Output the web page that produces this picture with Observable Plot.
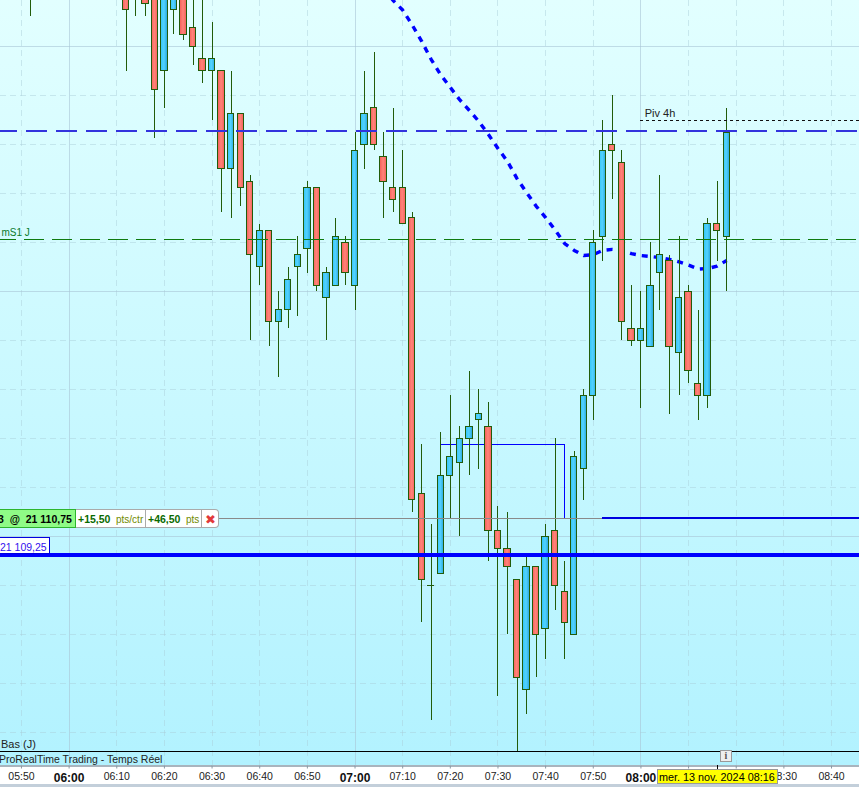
<!DOCTYPE html>
<html lang="fr">
<head>
<meta charset="utf-8">
<script src="https://cdn.jsdelivr.net/npm/d3@7"></script>
<script src="https://cdn.jsdelivr.net/npm/@observablehq/plot@0.6"></script>
<style>
html,body{margin:0;padding:0;background:#fff;overflow:hidden}
#wrap{position:relative;width:859px;height:787px;overflow:hidden;font-family:"Liberation Sans",Arial,sans-serif}
.o{position:absolute;box-sizing:border-box;white-space:nowrap;line-height:1}
.b{color:#0a6a00;font-weight:bold;font-size:10.5px}
.p{color:#6f8a00;font-size:10px}
</style>
</head>
<body>
<div id="wrap"></div>
<script>
// Candles: minute of day, prices as points relative to priceBase (21 110)
const priceBase = 21110;
const minutes = [352,372,374,376,378,380,382,384,386,388,390,392,394,396,398,400,402,404,406,408,410,412,414,416,418,420,422,424,426,428,430,432,434,436,438,440,442,444,446,448,450,452,454,456,458,460,462,464,466,468,470,472,474,476,478,480,482,484,486,488,490,492,494,496,498];
const opens  = [22.25,22.5,22,22.5,24,19,21.5,23,20.75,19.5,19,19,15,17.25,14.5,11,12.5,8.75,9.25,11,11.75,14.25,9.75,10.25,12,10.25,16,17.5,15.5,14.25,14.25,13,1.75,-2,-1.5,2.5,3,4,4.75,4.5,0.25,-0.5,-1.75,-6.25,-1.25,-3.75,0.25,-2.25,-4,2.75,5.75,12.25,16,15.25,8.5,8,7.75,10.75,11.25,7.5,10,6.25,5.75,12.75,12.25];
const highs  = [23.5,23,23.5,23,24.5,24,23.5,23.5,23,22,21,19,19,17.25,14.75,12.75,12.5,10,11,12.25,14.5,14.25,11,13,12.25,16.5,19,19.75,16.5,17.5,15.75,13.25,3.75,0.5,4.25,5.75,4.5,6.75,6,5.5,1.25,1,-1.75,-0.75,-1.25,0.5,4,-1,3.5,6,12.5,17,18,15.75,10.25,10,12,14.75,11.5,12.25,10.25,9.25,13,14.5,17.5];
const lows   = [21.25,19,21.25,21.25,16.25,17.5,20.5,20.25,19.25,18.5,17,13.25,13,13.5,8,10.25,7.75,6.5,8.5,9,10.75,10,8,10.25,10.25,9.25,15,15.75,13,13.25,12.75,1,-3.5,-7.5,-1.5,0.75,0,2.5,2.75,-1,-6.5,-4,-8.75,-7.25,-5.75,-5,-3,-5,-4,1.5,4.75,11.25,13.75,8,7.75,5.25,7.75,9.25,5,5.75,6.25,4.75,5.25,11.25,10];
const closes = [23,21.5,23,21.75,18.25,23.5,23,20.5,20,19,19.5,15,17.25,14.25,11.5,12.5,8.75,9.25,10.5,11.5,14.25,10.25,10.75,12.25,10.75,15.75,17.25,16,14.5,13.75,12.75,1.5,-1.75,-2,2.5,3.25,4,4.5,5,0.25,-0.5,-1.25,-5.75,-1.25,-4,0,-2,-3.5,3.25,5.75,12,15.75,15.75,8.75,8,8.5,10.25,11.5,7.75,9.75,6.75,5.75,12.75,12.5,16.5];

// Moving average (dotted blue curve)
const maMinutes = [426,428,430,432,434,436,438,440,442,444,446,448,450,452,454,456,458,460,462,464,466,468,470,472,474,476,478,480,482,484,486,488,490,492,494,496,498];
const maValues  = [22.38,21.89,21.5,20.89,20.22,19.48,18.85,18.34,17.83,17.4,16.95,16.42,15.85,15.32,14.62,14.05,13.5,13.03,12.52,11.97,11.69,11.48,11.52,11.69,11.73,11.69,11.56,11.48,11.44,11.4,11.32,11.22,11.09,10.93,10.95,11.05,11.28];

// Horizontal levels
const resistance = 16.56;
const pivot4h = 16.98;
const dailyS1 = 12.12;
const tradePrice = 0.75;
const stopPrice = -0.75;
const boxMinutes = [438,464,464];
const boxLevels = [3.75,3.75,0.75];

// Axis and grid
const tenMinuteTicks = [350,370,380,390,400,410,430,440,450,460,470,490,500,510,520];
const hourTicks  = [360,420,480];
const hiddenLabels = [490,500];
const gridPrices = [21102,21104,21106,21108,21112,21114,21116,21118,21122,21124,21126,21128];
const majorPrices = [21110,21120,21130];

const tickText = m => hiddenLabels.includes(m) ? "" : `${String(Math.floor(m/60)).padStart(2,"0")}:${String(m%60).padStart(2,"0")}`;
const candles = minutes.map((m,i) => ({m, o:priceBase+opens[i], h:priceBase+highs[i], l:priceBase+lows[i], c:priceBase+closes[i]}));
const solid = candles.filter(d => d.o !== d.c);
const doji  = candles.filter(d => d.o === d.c);
const ma = maMinutes.map((m,i) => ({m, v:priceBase+maValues[i]}));
const box = boxMinutes.map((m,i) => ({m, v:priceBase+boxLevels[i]}));
const P = v => priceBase + v;
const grad = () => {
  const defs = d3.create("svg:defs");
  const mk = (id, cols) => {
    const g = defs.append("linearGradient").attr("id", id).attr("x1",0).attr("x2",1).attr("y1",0).attr("y2",0);
    cols.forEach((c,i) => g.append("stop").attr("offset", i/(cols.length-1)).attr("stop-color", c));
  };
  mk("upG", ["#35c6f6","#52d2ff","#2aa9de"]);
  mk("dnG", ["#f5625c","#ff8379","#f5625c"]);
  return defs.node();
};
const crisp = {shapeRendering:"crispEdges"};

const chart = Plot.plot({
  width: 859, height: 787,
  marginTop: 0, marginRight: 0, marginLeft: 0, marginBottom: 21.5,
  style: {
    background: "linear-gradient(180deg,#e2ffff 0,#b2f2ff 765px,#a9b4bd 765px,#a9b4bd 766.5px,#fff 766.5px,#fff 784px,#c3cfda 784px)",
    fontFamily: '"Liberation Sans",Arial,sans-serif', overflow: "hidden"
  },
  x: {domain: [345.6, 525.87], axis: null},
  y: {domain: [21100.645, 21131.89], axis: null},
  marks: [
    grad,
    Plot.ruleX(tenMinuteTicks, {stroke:"#a9ccd6", strokeOpacity:.45, strokeDasharray:"6 4", ...crisp}),
    Plot.ruleX(hourTicks, {stroke:"#a9c4d6", strokeOpacity:.6, ...crisp}),
    Plot.ruleY(gridPrices, {stroke:"#a9ccd6", strokeOpacity:.45, strokeDasharray:"6 4", ...crisp}),
    Plot.ruleY(majorPrices, {stroke:"#a9c4d6", strokeOpacity:.6, ...crisp}),
    Plot.axisX(tenMinuteTicks, {tickSize:3, tickPadding:4, tickFormat:tickText, label:null, fontSize:10.5, stroke:"#8a98a3", fill:"#222"}),
    Plot.axisX(hourTicks, {tickSize:3, tickPadding:4, tickFormat:tickText, label:null, fontSize:12, fontWeight:"bold", stroke:"#8a98a3", fill:"#111"}),
    Plot.line(box, {x:"m", y:"v", stroke:"#0000ff", strokeWidth:1, ...crisp}),
    Plot.line(ma, {x:"m", y:"v", stroke:"#0000ff", strokeWidth:3.4, strokeLinecap:"butt", strokeDasharray:"6 6", clip:true}),
    Plot.ruleX(candles, {x:"m", y1:"l", y2:"h", stroke:"#225c0a", strokeWidth:1, clip:true, ...crisp}),
    Plot.rect(solid, {x1:d=>d.m-.66, x2:d=>d.m+.66, y1:"o", y2:"c", fill:d=>d.c>d.o?"url(#upG)":"url(#dnG)", stroke:"#225c0a", strokeWidth:1, clip:true, ...crisp}),
    Plot.ruleY(doji, {y:"o", x1:d=>d.m-.75, x2:d=>d.m+.75, stroke:"#225c0a", ...crisp}),
    Plot.ruleY([P(resistance)], {stroke:"#3333dd", strokeWidth:2, strokeDasharray:"21 9", strokeDashoffset:4, ...crisp}),
    Plot.ruleY([P(dailyS1)], {stroke:"#0f7a0f", strokeWidth:1, strokeDasharray:"20 8", strokeDashoffset:4, ...crisp}),
    Plot.ruleY([P(pivot4h)], {x1:480, x2:525.87, stroke:"#111", strokeWidth:1, strokeDasharray:"3 3", ...crisp}),
    Plot.ruleY([P(tradePrice)], {x1:345.6, x2:472, stroke:"#8a8a8a", strokeWidth:1, ...crisp}),
    Plot.ruleY([P(tradePrice)], {x1:472, x2:525.87, stroke:"#0000e0", strokeWidth:2, ...crisp}),
    Plot.ruleY([P(stopPrice)], {stroke:"#0000ff", strokeWidth:4, ...crisp}),
    Plot.text([{x:480.6, y:P(pivot4h), t:"Piv 4h"}], {x:"x", y:"y", text:"t", textAnchor:"start", dx:1, dy:-7, fontSize:11, fill:"#222"}),
    Plot.text([{x:345.6, y:P(dailyS1), t:"mS1 J"}], {x:"x", y:"y", text:"t", textAnchor:"start", dx:1, dy:-7, fontSize:10, fill:"#0a7a2a"})
  ]
});
const wrap = document.getElementById("wrap");
wrap.appendChild(chart);

// Platform chrome placed around the plot
const add = (css, html) => { const e = document.createElement("div"); e.className = "o"; e.style.cssText = css; e.innerHTML = html; wrap.appendChild(e); };
add("left:0;top:751px;width:859px;height:1px;background:#000", "");
add("left:1px;top:739px;font-size:11px;color:#222", "Bas (J)");
add("left:-1px;top:754px;font-size:10.5px;color:#222", "ProRealTime Trading - Temps Réel");
add("left:720px;top:750px;width:12px;height:12px;background:#eee;border:1px solid #999;color:#555;font:bold 10px 'Liberation Serif',serif;text-align:center;line-height:10px", "i");
add("left:717px;top:765px;width:1px;height:4px;background:#000", "");
add("left:657px;top:769px;width:121px;height:15px;background:#ffff00;border:1px solid #999;font-size:10.8px;color:#000;line-height:14px;padding-left:1px", "mer. 13 nov. 2024 08:16");
add("left:-1px;top:509px;width:77px;height:19px;background:#8ffb86;border:1px solid #2db52d;font-size:10.5px;font-weight:bold;color:#000;line-height:18px;text-indent:-2px", "3&nbsp;&nbsp;@&nbsp;&nbsp;21 110,75");
add("left:76px;top:509px;width:143px;height:19px;background:#fff;border:1px solid #aaa;border-left:0;border-radius:0 4px 4px 0", "");
add("left:145px;top:509px;width:1px;height:19px;background:#aaa", "");
add("left:201px;top:509px;width:1px;height:19px;background:#aaa", "");
add("left:78px;top:514px;font-size:10.5px", '<span class="b">+15,50</span>');
add("left:116px;top:514px;font-size:10.5px", '<span class="p">pts/ctr</span>');
add("left:148px;top:514px;font-size:10.5px", '<span class="b">+46,50</span>');
add("left:186px;top:514px;font-size:10.5px", '<span class="p">pts</span>');
add("left:205px;top:512px;font:13px 'DejaVu Sans';color:#e23a3a", "✖");
add("left:-1px;top:537px;width:51px;height:17px;background:#fff;border:1px solid #0000e0;font-size:10.5px;color:#3311ee;line-height:18px", "21 109,25");
</script>
</body>
</html>
